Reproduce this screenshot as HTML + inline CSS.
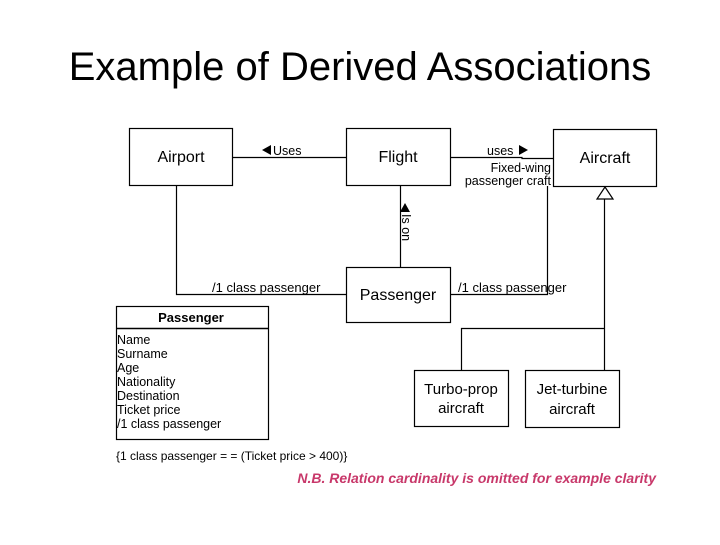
<!DOCTYPE html>
<html><head><style>
body{margin:0;background:#fff;}
svg text{font-family:"Liberation Sans",Arial,sans-serif;}
</style></head><body>
<svg width="720" height="540" xmlns="http://www.w3.org/2000/svg">
<rect width="720" height="540" fill="#fff"/>
<text x="360" y="80" font-size="40" text-anchor="middle" fill="#000">Example of Derived Associations</text>
<g fill="none" stroke="#000" stroke-width="1.2">
<rect x="129.5" y="128.5" width="103" height="57"/>
<rect x="346.5" y="128.5" width="104" height="57"/>
<rect x="553.5" y="129.5" width="103" height="57"/>
<rect x="346.5" y="267.5" width="104" height="55"/>
<rect x="414.5" y="370.5" width="94" height="56"/>
<rect x="525.5" y="370.5" width="94" height="57"/>
<rect x="116.5" y="306.5" width="152" height="133"/>
<line x1="116" y1="328.5" x2="268" y2="328.5" stroke-width="1.5"/>
<line x1="232" y1="157.5" x2="346" y2="157.5"/>
<polyline points="450,157.5 522,157.5 522,158.5 553,158.5"/>
<line x1="400.5" y1="185" x2="400.5" y2="267"/>
<polyline points="176.5,185 176.5,294.5 346,294.5"/>
<polyline points="450,294.5 547.5,294.5 547.5,186"/>
<polygon points="605,187 597,199 613,199"/>
<polyline points="604.5,199 604.5,370"/>
<polyline points="461.5,370 461.5,328.5 604.5,328.5"/>
</g>
<g font-size="16" text-anchor="middle" fill="#000">
<text x="181" y="162">Airport</text>
<text x="398" y="162">Flight</text>
<text x="605" y="163">Aircraft</text>
<text x="398" y="300">Passenger</text>
<text x="461" y="394" font-size="15">Turbo-prop</text>
<text x="461" y="413" font-size="15">aircraft</text>
<text x="572" y="394" font-size="15">Jet-turbine</text>
<text x="572" y="414" font-size="15">aircraft</text>
</g>
<g font-size="12.5" fill="#000">
<polygon points="262,150 271,145 271,155"/>
<text x="273" y="155">Uses</text>
<text x="487" y="155">uses</text>
<polygon points="519,145 528,150 519,155"/>
<text x="551" y="172" text-anchor="end">Fixed-wing</text>
<text x="551" y="185" text-anchor="end">passenger craft</text>
<polygon points="405,203 400,212 410,212"/>
<text transform="translate(402,214) rotate(90)">Is on</text>
<text x="212" y="292" font-size="13">/1 class passenger</text>
<text x="458" y="292" font-size="13">/1 class passenger</text>
<text x="191" y="322" font-weight="bold" font-size="13" text-anchor="middle">Passenger</text>
<text x="117" y="344">Name</text>
<text x="117" y="358">Surname</text>
<text x="117" y="372">Age</text>
<text x="117" y="386">Nationality</text>
<text x="117" y="400">Destination</text>
<text x="117" y="414">Ticket price</text>
<text x="117" y="428">/1 class passenger</text>
<text x="116" y="460" font-size="12">{1 class passenger = = (Ticket price &gt; 400)}</text>
</g>
<text x="656" y="483" font-size="14" font-weight="bold" font-style="italic" fill="#c8386a" text-anchor="end">N.B. Relation cardinality is omitted for example clarity</text>
</svg>
</body></html>
